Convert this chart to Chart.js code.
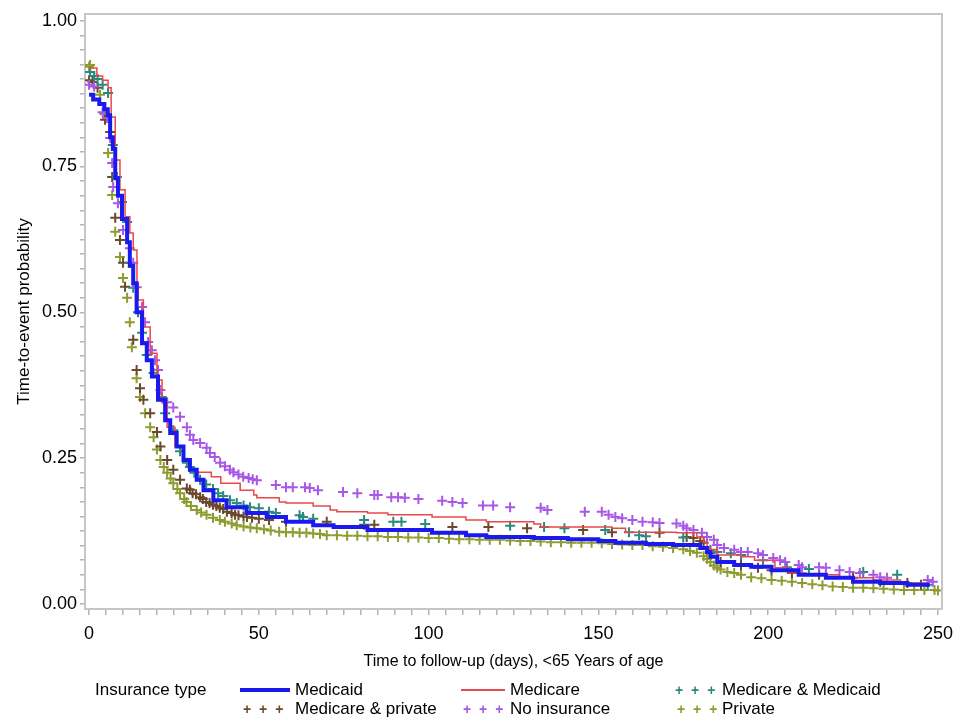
<!DOCTYPE html>
<html>
<head>
<meta charset="utf-8">
<script src="https://cdn.jsdelivr.net/npm/chart.js@4.4.1/dist/chart.umd.min.js"></script>
<style>
  body { margin: 0; background: #fff; }
  #wrap { position: relative; width: 963px; height: 718px; font-family: 'Liberation Sans', Arial, sans-serif; }
  #c { position: absolute; left: 0; top: 0; }
  .lg { position: absolute; font-size: 17px; line-height: 20px; color: #000; white-space: nowrap; }
  .sw { position: absolute; }
  .pl { position: absolute; font-size: 14px; line-height: 20px; letter-spacing: 2px; font-weight: bold; }
</style>
</head>
<body>
<div id="wrap">
  <canvas id="c" width="963" height="718"></canvas>
  <div class="lg" style="left:95px;top:680px">Insurance type</div>
  <div class="sw" style="left:240px;top:688px;width:50px;height:4px;background:#1a1aee"></div>
  <div class="lg" style="left:295px;top:680px">Medicaid</div>
  <div class="sw" style="left:461px;top:689px;width:44px;height:2px;background:#e8484a"></div>
  <div class="lg" style="left:510px;top:680px">Medicare</div>
  <div class="pl" style="left:675px;top:680px;color:#2a8a7e">+ + +</div>
  <div class="lg" style="left:722px;top:680px">Medicare &amp; Medicaid</div>
  <div class="pl" style="left:243px;top:699px;color:#6b4a2b">+ + +</div>
  <div class="lg" style="left:295px;top:699px">Medicare &amp; private</div>
  <div class="pl" style="left:463px;top:699px;color:#a857e6">+ + +</div>
  <div class="lg" style="left:510px;top:699px">No insurance</div>
  <div class="pl" style="left:677px;top:699px;color:#8d9c2f">+ + +</div>
  <div class="lg" style="left:722px;top:699px">Private</div>
</div>
<script>
// [days, survival probability]
const medicaid = [[0,0.873],[1.2,0.865],[3,0.857],[4.5,0.848],[5.5,0.838],[6.2,0.80],[7,0.78],[7.7,0.73],[8.5,0.70],[9.7,0.66],[11.2,0.62],[12,0.58],[13,0.55],[14,0.50],[15.6,0.447],[17,0.418],[18.5,0.39],[20.3,0.35],[22.4,0.315],[23.9,0.293],[25.8,0.27],[27.8,0.247],[29.7,0.23],[31.7,0.213],[33.7,0.195],[36.6,0.178],[40.5,0.166],[46.4,0.156],[52.3,0.149],[58,0.141],[66,0.135],[72,0.132],[82,0.127],[101,0.122],[111,0.118],[117,0.115],[131,0.113],[141,0.111],[150,0.108],[155,0.105],[164,0.103],[172,0.101],[180,0.096],[182,0.089],[183,0.081],[185,0.072],[190,0.067],[195,0.064],[201,0.058],[209,0.05],[217,0.045],[225,0.038],[233,0.036],[241,0.033],[247,0.029]];

const medicare = [[0,0.919],[2.3,0.905],[4,0.898],[5.6,0.885],[6.5,0.835],[7.7,0.761],[9.1,0.71],[10.6,0.664],[12,0.636],[13,0.607],[14.1,0.55],[14.5,0.521],[16,0.475],[18,0.43],[20,0.384],[21.5,0.345],[23,0.303],[25.3,0.27],[27.7,0.247],[29.7,0.232],[31.7,0.226],[36,0.218],[38.8,0.207],[44.5,0.195],[48.5,0.187],[49.4,0.182],[56,0.175],[58,0.173],[66,0.168],[71,0.161],[73,0.158],[82,0.156],[88,0.153],[101,0.149],[111,0.144],[117,0.141],[131,0.137],[133,0.132],[154,0.13],[158,0.123],[173,0.122],[179,0.115],[181,0.106],[182,0.098],[183,0.093],[185,0.084],[192,0.081],[196,0.075],[202,0.062],[206,0.053],[211,0.05],[221,0.045],[231,0.041],[239,0.036],[247,0.034]];

const medMedicaid = [[0.3,0.912],[1.5,0.905],[2.5,0.9],[4,0.89],[5.6,0.876],[7,0.787],[8.2,0.732],[9.7,0.689],[11.2,0.655],[12,0.585],[13,0.542],[14.4,0.50],[15.6,0.465],[17,0.427],[19,0.396],[21.4,0.355],[22.4,0.327],[24.8,0.298],[26.8,0.262],[28.8,0.242],[29.7,0.235],[31,0.225],[32.7,0.213],[34.5,0.205],[36.5,0.197],[38,0.19],[39.5,0.185],[41.5,0.178],[43.5,0.173],[45.5,0.169],[47.4,0.166],[50,0.164],[53,0.158],[55,0.156],[62,0.152],[63,0.149],[66,0.146],[81,0.144],[89.6,0.141],[92,0.141],[99,0.137],[124,0.134],[134,0.132],[140,0.13],[152,0.127],[159,0.123],[162,0.118],[164,0.116],[175,0.114],[183,0.093],[185,0.089],[189,0.087],[192,0.084],[198.5,0.075],[205.5,0.063],[212,0.06],[228,0.055],[238,0.05],[247,0.033]];

const medPrivate = [[0,0.898],[1,0.895],[2.5,0.885],[4.7,0.83],[6.2,0.809],[6.8,0.732],[7.7,0.662],[9.1,0.624],[10,0.585],[10.6,0.544],[13,0.453],[14,0.401],[15,0.37],[16,0.35],[18,0.327],[20,0.295],[21,0.27],[23,0.247],[24.8,0.23],[26.8,0.213],[28.8,0.198],[29.7,0.196],[30.5,0.19],[31.5,0.188],[32.7,0.183],[33.5,0.18],[34.5,0.175],[35.5,0.173],[36.5,0.17],[37.5,0.168],[38.5,0.165],[39.5,0.163],[40.6,0.158],[42,0.156],[43,0.153],[44,0.152],[45.5,0.15],[46.5,0.149],[48,0.148],[50,0.146],[53,0.144],[58,0.141],[70,0.141],[81,0.136],[84,0.136],[107,0.132],[117.6,0.132],[129,0.13],[145.5,0.127],[154,0.123],[168,0.122],[176,0.115],[178,0.113],[180,0.108],[181,0.105],[183,0.087],[186,0.072],[192,0.067],[197,0.062],[201,0.058],[207,0.053],[215,0.05],[225,0.045],[233,0.038],[241,0.036],[245,0.033]];

const noInsurance = [[0,0.89],[1.5,0.887],[4,0.843],[5.3,0.833],[6.2,0.799],[6.8,0.756],[7.1,0.715],[8.5,0.687],[10,0.641],[12,0.61],[13,0.585],[14,0.543],[15.6,0.509],[16.5,0.483],[17.4,0.449],[18.5,0.435],[19.4,0.418],[20.3,0.401],[21,0.367],[23,0.346],[24.8,0.337],[26.8,0.321],[28.8,0.303],[29.7,0.29],[30.7,0.281],[32.7,0.276],[34.6,0.268],[35.6,0.259],[37,0.252],[38.6,0.242],[40,0.236],[41.5,0.23],[42.5,0.226],[44,0.222],[45.4,0.218],[47,0.216],[48.2,0.214],[49.4,0.212],[55,0.204],[58,0.2],[60,0.2],[63.6,0.2],[65,0.199],[67.4,0.195],[74.8,0.192],[79,0.19],[84,0.187],[85,0.187],[89,0.183],[91,0.183],[93,0.182],[97,0.18],[104,0.177],[107,0.175],[110,0.173],[116,0.169],[119,0.169],[124,0.166],[133,0.165],[135,0.161],[146,0.158],[151,0.158],[153,0.153],[155,0.149],[157,0.147],[160,0.144],[163,0.141],[166,0.14],[168,0.139],[173,0.138],[175,0.134],[176,0.13],[178,0.127],[180.5,0.122],[182,0.115],[184,0.11],[185,0.101],[187,0.096],[190,0.093],[192,0.089],[194,0.089],[197,0.087],[198.5,0.084],[201.5,0.079],[203.5,0.075],[205,0.072],[209,0.067],[210,0.063],[215,0.063],[217,0.062],[221,0.058],[224,0.055],[227,0.053],[231,0.05],[233,0.046],[235,0.045],[247,0.041],[248.5,0.038]];

const privateIns = [[0,0.921],[0.3,0.924],[1.5,0.905],[3.2,0.873],[4.5,0.84],[5.6,0.773],[6.8,0.701],[7.7,0.638],[9.1,0.595],[10,0.559],[11.2,0.525],[12,0.483],[12.6,0.44],[14,0.387],[15,0.355],[16.5,0.327],[18,0.303],[19,0.286],[20,0.265],[21,0.247],[22,0.235],[23,0.225],[24,0.215],[24.8,0.207],[26,0.197],[26.8,0.19],[28,0.18],[28.7,0.175],[30,0.168],[31.7,0.161],[33,0.157],[34.6,0.153],[36.5,0.148],[38.5,0.144],[40,0.141],[42,0.138],[43.5,0.135],[45.5,0.133],[47.5,0.131],[49.4,0.13],[51.5,0.128],[53.5,0.126],[56,0.124],[58,0.123],[60,0.123],[62,0.122],[64,0.122],[66,0.121],[68,0.12],[70,0.118],[73,0.118],[76,0.117],[79,0.117],[82,0.116],[85,0.116],[88,0.115],[91,0.115],[94,0.114],[97,0.114],[100,0.113],[103,0.113],[106,0.112],[109,0.111],[112,0.111],[115,0.11],[118,0.11],[121,0.11],[124,0.109],[127,0.108],[130,0.108],[133,0.107],[136,0.106],[139,0.106],[142,0.105],[145,0.105],[148,0.105],[151,0.104],[154,0.103],[157,0.102],[160,0.101],[163,0.101],[166,0.099],[169,0.098],[172,0.096],[175,0.094],[177,0.091],[179,0.088],[181,0.082],[182,0.077],[183,0.072],[184,0.066],[185,0.062],[186,0.059],[188,0.055],[190,0.053],[192,0.05],[195,0.046],[198,0.044],[201,0.041],[204,0.04],[207,0.038],[210,0.036],[213,0.034],[216,0.032],[219,0.03],[222,0.029],[225,0.028],[228,0.028],[231,0.027],[234,0.026],[237,0.025],[240,0.024],[243,0.024],[246,0.024],[249,0.024],[250,0.023]];

const xLabelEvery = 50;   // labelled x ticks
const yLabelEvery = 0.25; // labelled y ticks
const xTitle = 'Time to follow-up (days), <65 Years of age';
const yTitle = 'Time-to-event probability';

const FONT = "'Liberation Sans', Arial, sans-serif";
const AXIS = '#c6c6c6', TICK = '#b4b4b4';

const pts = (arr) => arr.map(([x, y]) => ({ x, y }));
const stepLine = (label, data, color, width, order) => ({
  label, data: pts(data), borderColor: color, backgroundColor: color, borderWidth: width,
  stepped: true, pointRadius: 0, fill: false, order
});
const censor = (label, data, color, order) => ({
  label, data: pts(data), showLine: false, pointStyle: 'cross', pointRadius: 5,
  pointBorderWidth: 2, borderColor: color, backgroundColor: color, order
});

// top/right frame lines
const frame = {
  id: 'frame',
  afterDraw(chart) {
    const { ctx, chartArea: a } = chart;
    ctx.save();
    ctx.strokeStyle = AXIS; ctx.lineWidth = 2;
    ctx.beginPath();
    ctx.moveTo(a.left, a.top); ctx.lineTo(a.right, a.top); ctx.lineTo(a.right, a.bottom);
    ctx.stroke();
    ctx.restore();
  }
};

new Chart(document.getElementById('c'), {
  type: 'line',
  data: {
    datasets: [
      stepLine('Medicaid', medicaid, '#1a1aee', 4, 0),
      stepLine('Medicare', medicare, '#e8484a', 1.5, 1),
      censor('No insurance', noInsurance, '#a857e6', 2),
      censor('Medicare & Medicaid', medMedicaid, '#2a8a7e', 3),
      censor('Medicare & private', medPrivate, '#6b4a2b', 4),
      censor('Private', privateIns, '#8d9c2f', 5)
    ]
  },
  plugins: [frame],
  options: {
    responsive: false, animation: false,
    layout: { padding: { top: 14, right: 21, bottom: 45, left: 0 } },
    plugins: { legend: { display: false }, tooltip: { enabled: false } },
    scales: {
      x: {
        type: 'linear', min: -1.2, max: 251.2,
        border: { color: AXIS, width: 2 },
        grid: { drawOnChartArea: false, drawTicks: true, tickLength: 6, color: TICK, lineWidth: 1.5 },
        ticks: {
          stepSize: 5, autoSkip: false, maxRotation: 0, includeBounds: false, padding: 8,
          color: '#000', font: { family: FONT, size: 18 },
          callback: (v) => (Math.abs(v % xLabelEvery) < 1e-6 ? String(v) : '')
        },
        afterBuildTicks: (s) => { s.ticks = s.ticks.filter((t) => t.value >= 0 && t.value <= 250); },
        afterFit: (s) => { s.height = 64; },
        title: { display: true, text: xTitle, color: '#000', font: { family: FONT, size: 16 }, padding: { top: 4, bottom: 2 } }
      },
      y: {
        type: 'linear', min: -0.0086, max: 1.0115,
        border: { color: AXIS, width: 2 },
        grid: { drawOnChartArea: false, drawTicks: true, tickLength: 5, color: TICK, lineWidth: 1.5 },
        ticks: {
          stepSize: 0.025, autoSkip: false, includeBounds: false, padding: 3,
          color: '#000', font: { family: FONT, size: 18 },
          callback: (v) => {
            const q = v / yLabelEvery;
            return Math.abs(q - Math.round(q)) < 1e-6 ? v.toFixed(2) : '';
          }
        },
        afterBuildTicks: (s) => { s.ticks = s.ticks.filter((t) => t.value >= -1e-9 && t.value <= 1 + 1e-9); },
        afterFit: (s) => { s.width = 85; },
        title: { display: true, text: yTitle, color: '#000', font: { family: FONT, size: 17 }, padding: { top: 14, bottom: 0 } }
      }
    }
  }
});
</script>
</body>
</html>
